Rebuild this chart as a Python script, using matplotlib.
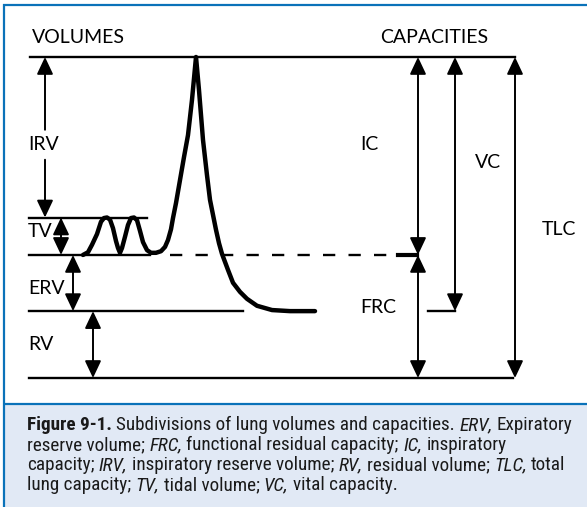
import matplotlib
matplotlib.use("Agg")
import matplotlib.pyplot as plt
from matplotlib import font_manager
from matplotlib.patches import Rectangle

# lung volumes (litres)
rv = 1.25
erv = 1.05
tv = 0.7
irv = 3.0

frc = rv + erv
tv_top = frc + tv
tlc = tv_top + irv

# spirogram: time (arbitrary units) and volume (litres)
trace_t = [83, 88, 92, 97, 101, 104, 107, 110, 113, 116, 118, 120, 122, 125, 128,
           131, 134, 137, 140, 143, 147, 151, 156, 161, 165, 168, 171, 173, 176,
           180, 184, 188, 192, 196, 199, 203, 207, 210, 213, 216, 219, 222, 228, 233,
           240, 247, 257, 272, 290, 315]
trace_v = [2.30, 2.35, 2.49, 2.69, 2.92, 2.99, 3.00, 2.96, 2.80, 2.56, 2.43, 2.34,
           2.43, 2.64, 2.86, 2.99, 3.00, 2.95, 2.75, 2.54, 2.39, 2.34, 2.34, 2.37,
           2.45, 2.58, 2.78, 2.99, 3.27, 3.70, 4.13, 4.54, 5.20, 6.00, 5.38, 4.45,
           3.79, 3.33, 3.05, 2.77, 2.52, 2.32, 2.02, 1.78, 1.61, 1.48, 1.35, 1.27,
           1.25, 1.25]

caption = [
    [("Figure 9-1.", "bold"), ("Subdivisions of lung volumes and capacities.", "normal"),
     ("ERV,", "italic"), ("Expiratory", "normal")],
    [("reserve volume;", "normal"), ("FRC,", "italic"), ("functional residual capacity;", "normal"),
     ("IC,", "italic"), ("inspiratory", "normal")],
    [("capacity;", "normal"), ("IRV,", "italic"), ("inspiratory reserve volume;", "normal"),
     ("RV,", "italic"), ("residual volume;", "normal"), ("TLC,", "italic"), ("total", "normal")],
    [("lung capacity;", "normal"), ("TV,", "italic"), ("tidal volume;", "normal"),
     ("VC,", "italic"), ("vital capacity.", "normal")],
]

blue = "#0a72b9"
fill = "#e1e9f5"
label_font = "Lato"

names = {f.name for f in font_manager.fontManager.ttflist}
cap_font = "DejaVu Sans"
for cand in ["Liberation Sans Narrow", "DejaVu Sans Condensed", "Roboto Condensed", "Roboto"]:
    if cand in names:
        cap_font = cand
        break

fig = plt.figure(figsize=(5.87, 5.07), dpi=100)
fig.patch.set_facecolor("white")

# frame + caption, in pixel units
frame = fig.add_axes([0, 0, 1, 1], zorder=0)
frame.set_xlim(0, 587)
frame.set_ylim(507, 0)
frame.axis("off")
frame.add_patch(Rectangle((3, 403), 590, 110, facecolor=fill, edgecolor="none"))
frame.plot([3, 587], [5, 5], color=blue, lw=1.6, solid_capstyle="butt")
frame.plot([4, 4], [4, 507], color=blue, lw=1.6, solid_capstyle="butt")
frame.plot([3, 587], [403.5, 403.5], color=blue, lw=1.6, solid_capstyle="butt")

# diagram: x in pixels, y in litres
ax = fig.add_axes([0, 0, 1, 1], zorder=1)
ax.patch.set_alpha(0)
px_per_l = 53.5
base = 378
ax.set_xlim(0, 587)
ax.set_ylim((base - 507) / px_per_l, base / px_per_l)
ax.axis("off")

lw_thin = 1.7
ax.plot([30, 515], [tlc, tlc], color="black", lw=lw_thin)
ax.plot([29, 147], [tv_top, tv_top], color="black", lw=lw_thin)
ax.plot([29, 150], [frc, frc], color="black", lw=lw_thin)
ax.plot([29, 243], [rv, rv], color="black", lw=lw_thin)
ax.plot([29, 513], [0, 0], color="black", lw=lw_thin)
ax.plot([170, 398], [frc, frc], color="black", lw=lw_thin, ls=(0, (5.2, 5.6)))
ax.plot([398, 417], [frc, frc], color="black", lw=3)
ax.plot([428, 455], [rv, rv], color="black", lw=lw_thin)

ax.plot(trace_t, trace_v, color="black", lw=3.2, solid_joinstyle="round", solid_capstyle="round")


def varrow(x, v0, v1, style="<|-|>"):
    ax.annotate("", xy=(x, v1), xytext=(x, v0),
                arrowprops=dict(arrowstyle=style + ",head_length=0.7,head_width=0.33",
                                lw=1.4, color="black", shrinkA=0, shrinkB=0,
                                mutation_scale=15))


irv_label_v = 4.36
varrow(45, irv_label_v + 0.28, tlc, "-|>")
varrow(45, irv_label_v - 0.28, tv_top, "-|>")
varrow(61, frc, tv_top)
varrow(73, rv, frc)
varrow(93, 0, rv)
varrow(418, frc, tlc)
varrow(418, 0, frc)
varrow(455, rv, tlc)
varrow(515, 0, tlc)

lab = dict(fontsize=14, family=label_font, color="black", ha="left", va="center")
ax.text(32, 6.37, "VOLUMES", **lab)
ax.text(380, 6.37, "CAPACITIES", **lab)
ax.text(28, irv_label_v, "IRV", **lab)
ax.text(28, 2.73, "TV", **lab)
ax.text(28, 1.68, "ERV", **lab)
ax.text(28, 0.62, "RV", **lab)
ax.text(360, 4.36, "IC", **lab)
ax.text(475, 4.02, "VC", **lab)
ax.text(360, 1.31, "FRC", **lab)
ax.text(542, 2.77, "TLC", **lab)

# caption, laid out piece by piece
renderer = fig.canvas.get_renderer()


def width(s, size, style):
    kw = dict(fontsize=size, family=cap_font)
    if style == "bold":
        kw["fontweight"] = "bold"
    if style == "italic":
        kw["fontstyle"] = "italic"
    t = frame.text(0, 0, s, **kw)
    w = t.get_window_extent(renderer).width
    t.remove()
    return w


size = 12.0
line1 = sum(width(s, size, st) for s, st in caption[0]) + 3 * (width("x x", size, "normal") - width("xx", size, "normal"))
size = min(14.5, size * 546 / line1)
space = width("x x", size, "normal") - width("xx", size, "normal")

y = 430
for line in caption:
    x = 27
    for s, st in line:
        kw = dict(fontsize=size, family=cap_font, color="#1a1a1a", va="baseline", ha="left")
        if st == "bold":
            kw["fontweight"] = "bold"
        if st == "italic":
            kw["fontstyle"] = "italic"
        t = frame.text(x, y, s, **kw)
        x += t.get_window_extent(renderer).width + space
    y += 20

fig.savefig("out.png", dpi=100)
